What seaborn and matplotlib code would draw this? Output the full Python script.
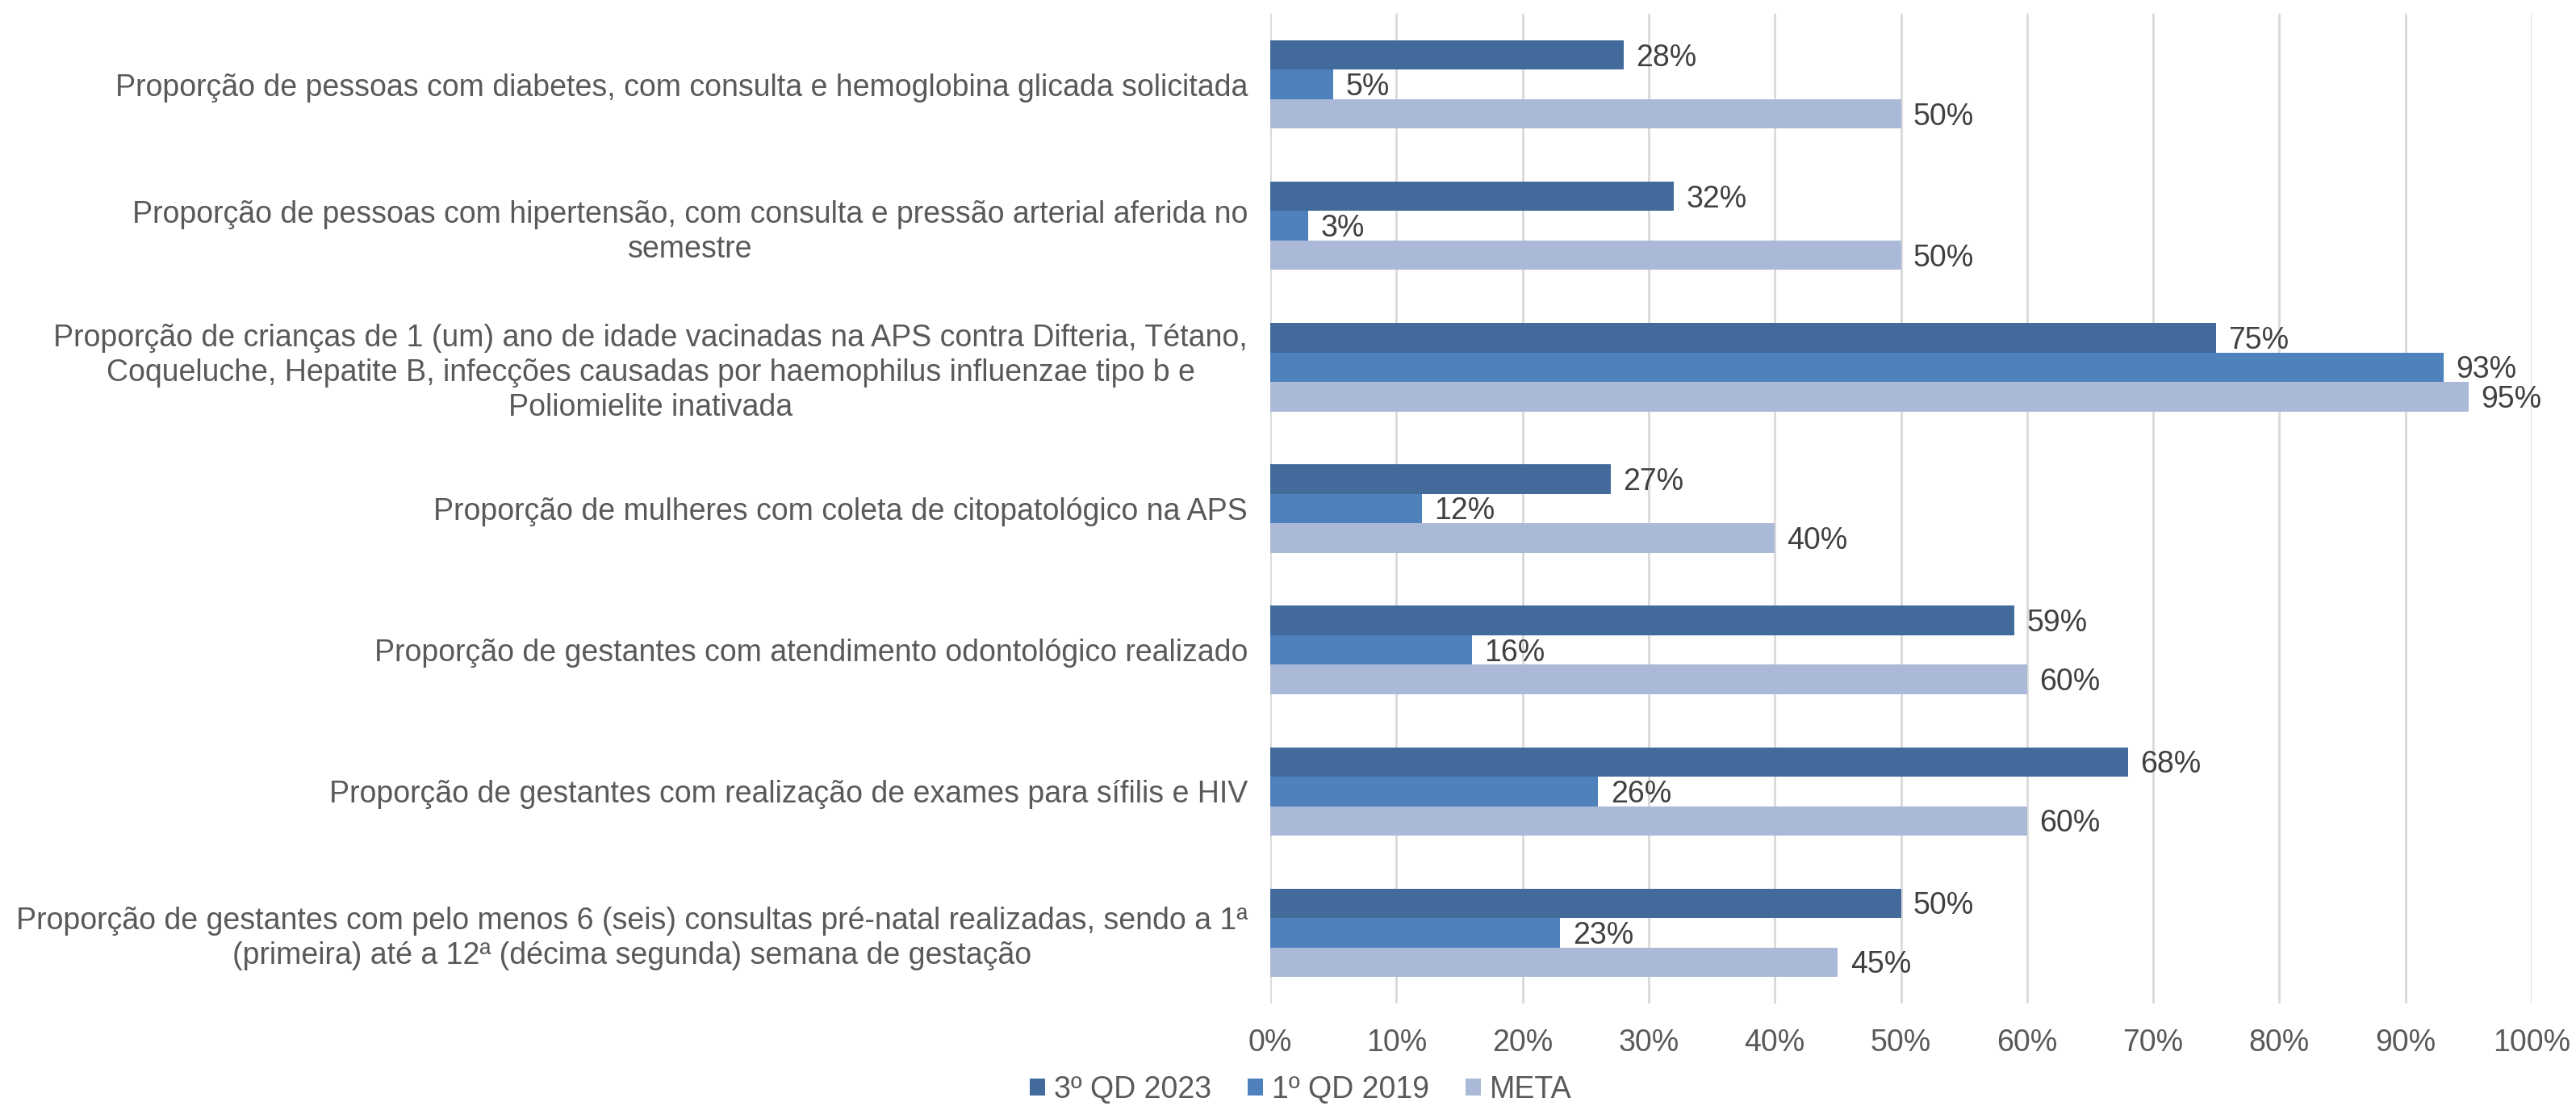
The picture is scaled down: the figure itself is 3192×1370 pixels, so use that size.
import matplotlib
matplotlib.use("Agg")
import matplotlib.pyplot as plt
import seaborn as sns
import pandas as pd
from matplotlib.ticker import FuncFormatter, MultipleLocator

categories = [
    "Proporção de pessoas com diabetes, com consulta e hemoglobina glicada solicitada",
    "Proporção de pessoas com hipertensão, com consulta e pressão arterial aferida no\nsemestre",
    "Proporção de crianças de 1 (um) ano de idade vacinadas na APS contra Difteria, Tétano,\nCoqueluche, Hepatite B, infecções causadas por haemophilus influenzae tipo b e\nPoliomielite inativada",
    "Proporção de mulheres com coleta de citopatológico na APS",
    "Proporção de gestantes com atendimento odontológico realizado",
    "Proporção de gestantes com realização de exames para sífilis e HIV",
    "Proporção de gestantes com pelo menos 6 (seis) consultas pré-natal realizadas, sendo a 1ª\n(primeira) até a 12ª (décima segunda) semana de gestação",
]
series_names = ["3º QD 2023", "1º QD 2019", "META"]
qd2023 = [28, 32, 75, 27, 59, 68, 50]
qd2019 = [5, 3, 93, 12, 16, 26, 23]
meta = [50, 50, 95, 40, 60, 60, 45]
colors = ["#426A9B", "#4F81BD", "#AAB9D7"]

rows = []
for name, vals in zip(series_names, [qd2023, qd2019, meta]):
    for c, v in zip(categories, vals):
        rows.append({"cat": c, "serie": name, "val": v})
df = pd.DataFrame(rows)

sns.set_theme(style="white")
plt.rcParams["font.family"] = ["Liberation Sans", "DejaVu Sans"]

fig = plt.figure(figsize=(31.92, 13.70), dpi=100)
ax = fig.add_axes([0.4931, 0.0927, 0.4897, 0.8949])

sns.barplot(data=df, y="cat", x="val", hue="serie", order=categories,
            hue_order=series_names, palette=colors, orient="h",
            width=0.625, gap=0, saturation=1, legend=True, ax=ax,
            edgecolor="none", linewidth=0)

fs = 27
txt = "#595959"
for cont in ax.containers:
    vals = [b.get_width() for b in cont]
    anns = ax.bar_label(cont, labels=[f"{v:.0f}%" for v in vals], padding=11,
                        fontsize=fs, color="#404040")
    for a in anns:
        a.xyann = (11, -2.5)

ax.set_xlim(0, 100)
ax.set_ylim(6.5, -0.5)
ax.xaxis.set_major_locator(MultipleLocator(10))
ax.xaxis.set_major_formatter(FuncFormatter(lambda v, p: f"{v:.0f}%"))
ax.grid(axis="x", color="#D9D9D9", linewidth=2)
ax.set_axisbelow(True)
for s in ax.spines.values():
    s.set_visible(False)
ax.set_xlabel("")
ax.set_ylabel("")
ax.tick_params(axis="x", length=0, labelsize=fs, labelcolor=txt, pad=22)
ax.tick_params(axis="y", length=0, labelsize=fs, labelcolor=txt, pad=20)
for lab in ax.get_yticklabels():
    lab.set_multialignment("center")
    lab.set_linespacing(1.25)

handles, labels = ax.get_legend_handles_labels()
ax.legend_.remove()
fig.legend(handles, labels, loc="lower center", bbox_to_anchor=(0.505, -0.015),
           ncol=3, frameon=False, fontsize=fs, labelcolor=txt,
           handlelength=0.5, handleheight=0.5, handletextpad=0.3,
           columnspacing=1.2, borderpad=0.1)

fig.savefig("out.png", dpi=100)
